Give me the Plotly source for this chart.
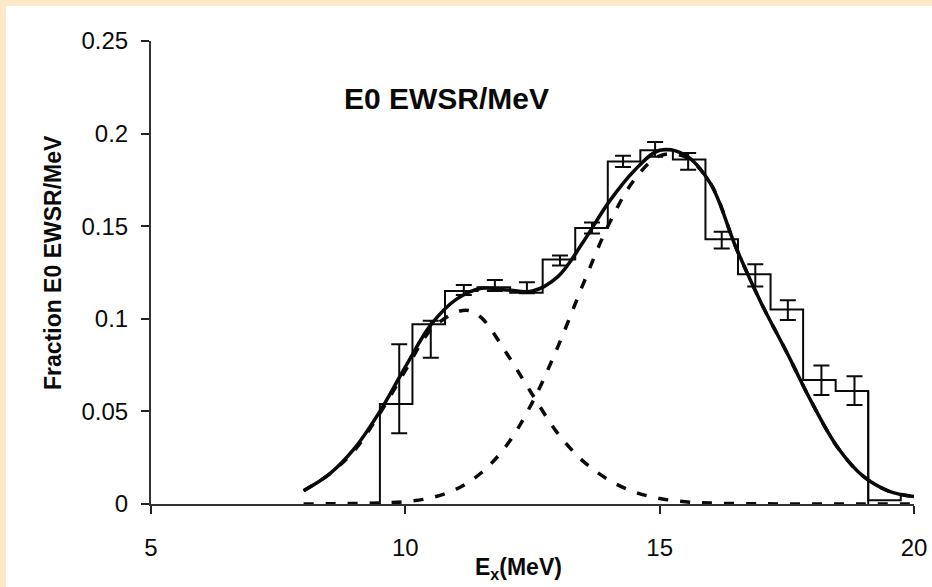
import plotly.graph_objects as go

# ---------------- data ----------------
bin_edges = [9.5, 10.14, 10.78, 11.42, 12.06, 12.70, 13.34, 13.98, 14.62, 15.26,
             15.90, 16.54, 17.18, 17.82, 18.46, 19.10, 19.74, 20.38]
bin_values = [0.054, 0.097, 0.115, 0.117, 0.114, 0.132, 0.149, 0.185, 0.191, 0.186,
              0.143, 0.124, 0.105, 0.067, 0.061, 0.002, 0.005]

point_e = [9.88, 10.50, 11.15, 11.76, 12.39, 13.04, 13.67, 14.28, 14.91, 15.56,
           16.22, 16.88, 17.52, 18.18, 18.83]
point_y = [0.0622, 0.089, 0.1156, 0.118, 0.1168, 0.1315, 0.149, 0.185, 0.1915, 0.185,
           0.1425, 0.1235, 0.1047, 0.0668, 0.0612]
point_err = [0.024, 0.010, 0.0027, 0.003, 0.003, 0.0027, 0.003, 0.003, 0.004, 0.0045,
             0.0045, 0.006, 0.0053, 0.008, 0.0078]

fit_e = [8.0, 8.5, 9.0, 9.5, 10.0, 10.5, 11.0, 11.5, 12.0, 12.5, 13.0, 13.5, 14.0,
         14.5, 15.0, 15.5, 16.0, 16.5, 17.0, 17.5, 18.0, 18.5, 19.0, 19.5, 20.0]
fit_total = [0.0072, 0.016, 0.030, 0.050, 0.074, 0.0967, 0.1105, 0.1165, 0.1156, 0.1150,
             0.1228, 0.1416, 0.163, 0.180, 0.191, 0.1885, 0.173, 0.1385, 0.1083, 0.0818,
             0.0543, 0.0305, 0.015, 0.007, 0.004]

low_e = [8.0, 8.5, 9.0, 9.5, 10.0, 10.5, 11.0, 11.25, 11.5, 12.0, 12.5, 13.0, 13.5,
         14.0, 14.5, 15.0, 15.5, 16.0, 17.0, 18.0, 19.0, 20.0]
low_comp = [0.0072, 0.016, 0.029, 0.049, 0.072, 0.094, 0.1035, 0.1045, 0.1005, 0.081,
            0.059, 0.038, 0.023, 0.013, 0.0065, 0.003, 0.0012, 0.0005, 0.0001, 0.0,
            0.0, 0.0]

high_e = [8.0, 8.5, 9.0, 9.5, 10.0, 10.5, 11.0, 11.5, 12.0, 12.5, 13.0, 13.5, 14.0,
          14.5, 15.0, 15.5, 16.0, 16.5, 17.0, 17.5, 18.0, 18.5, 19.0, 19.5, 20.0]
high_comp = [0.0, 0.0001, 0.0003, 0.0006, 0.0013, 0.0033, 0.008, 0.017, 0.032, 0.055,
             0.085, 0.119, 0.151, 0.175, 0.188, 0.1875, 0.173, 0.1385, 0.1083, 0.0818,
             0.0543, 0.0305, 0.015, 0.007, 0.004]

x_ticks = [5, 10, 15, 20]
x_tick_text = ["5", "10", "15", "20"]
y_ticks = [0, 0.05, 0.1, 0.15, 0.2, 0.25]
y_tick_text = ["0", "0.05", "0.1", "0.15", "0.2", "0.25"]

# ---------------- figure ----------------
FONT = "Liberation Sans, Arial, sans-serif"
INK = "#0a0a0a"
fig = go.Figure()

# histogram as stairs
hist_x = [bin_edges[0]] + bin_edges[:-1]
hist_y = [0.0] + bin_values
fig.add_trace(go.Scatter(x=hist_x, y=hist_y, mode="lines", line_shape="hv",
                         line=dict(color=INK, width=2), showlegend=False,
                         hoverinfo="skip"))
fig.add_trace(go.Scatter(x=[bin_edges[15], bin_edges[15]], y=[0, bin_values[14]],
                         mode="lines", line=dict(color=INK, width=2),
                         showlegend=False, hoverinfo="skip"))

# dashed components
fig.add_trace(go.Scatter(x=low_e, y=low_comp, mode="lines", line_shape="spline",
                         line=dict(color=INK, width=3.5, dash="10px,12px"),
                         showlegend=False))
fig.add_trace(go.Scatter(x=high_e, y=high_comp, mode="lines", line_shape="spline",
                         line=dict(color=INK, width=3.5, dash="10px,12px"),
                         showlegend=False))

# total fit
fig.add_trace(go.Scatter(x=fit_e, y=fit_total, mode="lines", line_shape="spline",
                         line=dict(color=INK, width=3.5), showlegend=False))

# data points with error bars
fig.add_trace(go.Scatter(x=point_e, y=point_y, mode="markers",
                         marker=dict(size=1, color=INK),
                         error_y=dict(type="data", array=point_err, visible=True,
                                      color=INK, thickness=2, width=8),
                         showlegend=False))

axis_common = dict(showgrid=False, zeroline=False, automargin=False)

fig.update_layout(
    width=932, height=587,
    autosize=False,
    margin=dict(l=151, r=18, t=41, b=83, autoexpand=False),
    paper_bgcolor="#FBE9C8",
    plot_bgcolor="white",
    font=dict(family=FONT, color=INK),
    xaxis=dict(range=[5, 20], tickvals=x_ticks, ticktext=x_tick_text,
               ticks="outside", ticklen=8, tickwidth=1.5, tickcolor="#222",
               showline=True, linecolor="#333", linewidth=2,
               tickfont=dict(size=24, family=FONT, color=INK),
               ticklabelstandoff=13, **axis_common),
    xaxis2=dict(range=[5, 20], overlaying="x", anchor="y", side="bottom",
                tickvals=x_ticks, ticks="inside", ticklen=7, tickwidth=1.5,
                tickcolor="#222", showticklabels=False, showline=False,
                **axis_common),
    xaxis3=dict(range=[5, 20], overlaying="x", anchor="y", side="top",
                showticklabels=False, ticks="", showline=True,
                linecolor="#8a8a8a", linewidth=2, **axis_common),
    yaxis=dict(range=[0, 0.25], tickvals=y_ticks, ticktext=y_tick_text,
               ticks="outside", ticklen=8, tickwidth=1.5, tickcolor="#222",
               showline=True, linecolor="#333", linewidth=2,
               tickfont=dict(size=24, family=FONT, color=INK),
               ticklabelstandoff=8, **axis_common),
    yaxis2=dict(range=[0, 0.25], overlaying="y", anchor="x", side="left",
                tickvals=y_ticks, ticks="inside", ticklen=6, tickwidth=1.5,
                tickcolor="#222", showticklabels=False, showline=False,
                **axis_common),
    yaxis3=dict(range=[0, 0.25], overlaying="y", anchor="x", side="right",
                showticklabels=False, ticks="", showline=True,
                linecolor="#8a8a8a", linewidth=2, **axis_common),
    shapes=[dict(type="rect", xref="paper", yref="paper",
                 x0=(6 - 151) / 763, x1=(940 - 151) / 763,
                 y0=(504 - 600) / 463, y1=(504 - 6) / 463,
                 fillcolor="white", line=dict(width=0), layer="below")],
    annotations=[
        dict(text="<b>E0 EWSR/MeV</b>", xref="paper", yref="paper",
             x=(446 - 151) / 763, y=(504 - 99) / 463, showarrow=False,
             xanchor="center", yanchor="middle",
             font=dict(size=30, family=FONT, color=INK)),
        dict(text="<b>Fraction E0 EWSR/MeV</b>", xref="paper", yref="paper",
             x=(53 - 151) / 763, y=(504 - 263) / 463, showarrow=False,
             textangle=-90, xanchor="center", yanchor="middle",
             font=dict(size=23, family=FONT, color=INK)),
        dict(text="<b>E<sub>x</sub>(MeV)</b>", xref="paper", yref="paper",
             x=(518 - 151) / 763, y=(504 - 568) / 463, showarrow=False,
             xanchor="center", yanchor="middle",
             font=dict(size=23, family=FONT, color=INK)),
    ],
)

fig.write_html(
    "out.html",
    config={"displayModeBar": False},
    post_script="document.body.style.margin='0px';"
                "document.body.style.background='#FBE9C8';",
)
